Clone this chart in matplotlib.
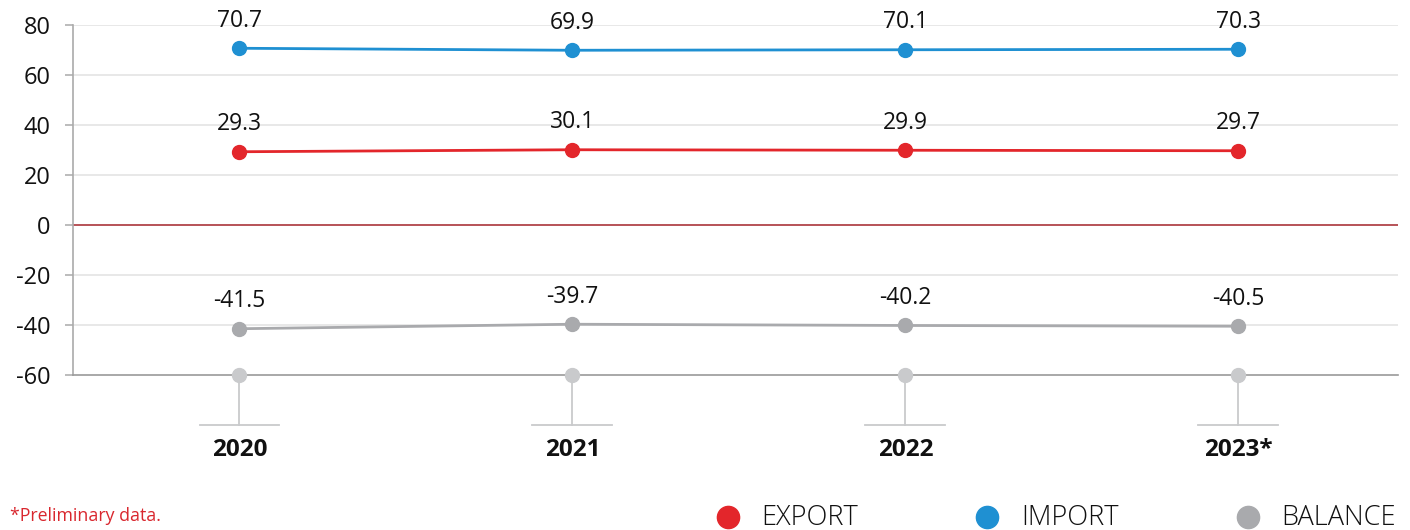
import numpy as np
import matplotlib.pyplot as plt

plt.rcParams['font.family'] = ['Open Sans', 'DejaVu Sans']
plt.rcParams['axes.unicode_minus'] = False

# data
years = ['2020', '2021', '2022', '2023*']
export = [29.3, 30.1, 29.9, 29.7]
imports = [70.7, 69.9, 70.1, 70.3]
balance = [-41.5, -39.7, -40.2, -40.5]
yticks = [-60, -40, -20, 0, 20, 40, 60, 80]

c_exp = '#e3262b'
c_imp = '#1f90d2'
c_bal = '#a9aaad'
c_base = '#c9cacc'

fig = plt.figure(figsize=(14.1, 5.3), dpi=100)
ax = fig.add_axes([0.0518, 0.2925, 0.9397, 0.6603])

x = np.arange(len(years))
ax.set_xlim(-0.5, 3.48)
ax.set_ylim(-60, 80)

# grid + zero line
for t in yticks[1:]:
    if t == 0:
        ax.axhline(t, color='#a3232a', lw=1.1, zorder=1)
    else:
        ax.axhline(t, color='#e2e2e2', lw=1.1, zorder=0)

for vals, col in [(imports, c_imp), (export, c_exp), (balance, c_bal)]:
    ax.plot(x, vals, color=col, lw=2.0, marker='o', ms=10, zorder=3, clip_on=False)
    for xi, v in zip(x, vals):
        ax.annotate(f'{v:.1f}', (xi, v), xytext=(0, 11), textcoords='offset points',
                    ha='center', va='bottom', fontsize=16.5, color='#111111',
                    annotation_clip=False)

# category stems below the axis
ymin = ax.get_ylim()[0]
for xi, lab in zip(x, years):
    ax.plot([xi, xi], [ymin, ymin - 20], color=c_base, lw=1.3, clip_on=False, zorder=2)
    ax.plot([xi - 0.12, xi + 0.12], [ymin - 20, ymin - 20], color=c_base, lw=1.3,
            clip_on=False, zorder=2)
    ax.plot(xi, ymin, 'o', color=c_base, ms=10, clip_on=False, zorder=4)
    ax.text(xi, ymin - 30, lab, ha='center', va='center', fontsize=17.5,
            fontweight='bold', color='#111111')

ax.set_xticks([])
ax.set_yticks(yticks)
ax.tick_params(axis='y', length=6, width=1.1, color='#aaaaaa', pad=10,
               labelsize=17, labelcolor='#111111')
for s in ['top', 'right']:
    ax.spines[s].set_visible(False)
ax.spines['left'].set_color('#aaaaaa')
ax.spines['left'].set_linewidth(1.2)
ax.spines['bottom'].set_color('#9a9a9a')
ax.spines['bottom'].set_linewidth(1.2)

# footnote
fig.text(0.007, 0.027, '*Preliminary data.', color='#d9272e', fontsize=12.8,
         va='center', ha='left')

# legend
for xp, lab, col in [(0.516, 'EXPORT', c_exp), (0.700, 'IMPORT', c_imp),
                     (0.885, 'BALANCE', c_bal)]:
    fig.lines.append(plt.Line2D([xp], [0.024], marker='o', ms=16, color=col,
                                transform=fig.transFigure, lw=0))
    fig.text(xp + 0.024, 0.022, lab, fontsize=19.5, va='center', ha='left',
             color='#111111', fontweight='light')

fig.savefig('out.png', dpi=100)
